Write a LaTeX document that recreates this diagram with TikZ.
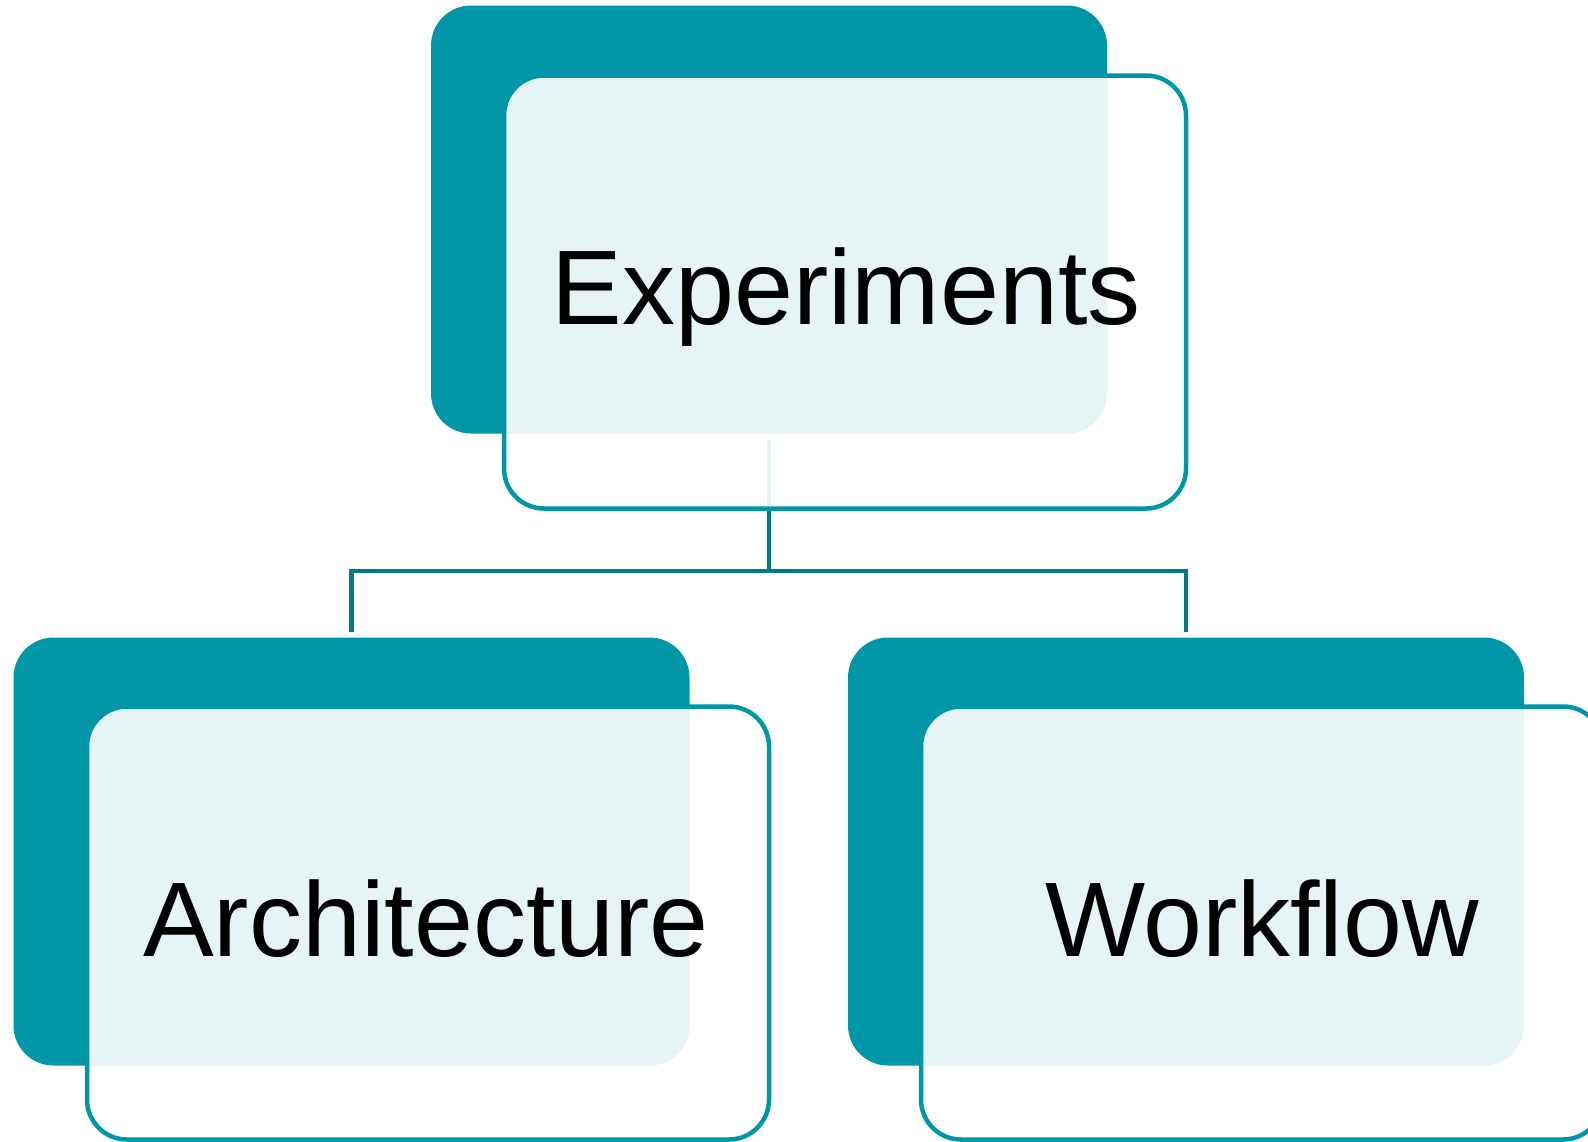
\documentclass[tikz,border=0pt]{standalone}
\usepackage{fontspec}
\setmainfont{Liberation Sans}
\definecolor{tealA}{RGB}{0,150,168}
\definecolor{tealB}{RGB}{0,122,135}
\begin{document}
\begin{tikzpicture}[x=1pt,y=-1pt,
  backbox/.style={draw=none, fill=tealA, rounded corners=40pt, minimum width=676pt, minimum height=428pt, inner sep=0pt},
  frontbox/.style={draw=tealA, line width=4.5pt, fill=white, fill opacity=0.9, rounded corners=40pt, minimum width=682pt, minimum height=433pt, inner sep=0pt},
  boxtext/.style={font=\fontsize{106}{120}\selectfont, anchor=base, inner sep=0pt, text=black},
  conn/.style={draw=tealB, line width=4.5pt}]
\useasboundingbox (0,0) rectangle (1588,1141);
% back boxes
\node[backbox] (tb) at (769,219.5) {};
\node[backbox] (bl) at (351.5,851.5) {};
\node[backbox] (br) at (1186,851.5) {};
% connectors
\coordinate (j) at (769,571);
\draw[conn] ([yshift=-6pt]tb.south) -- (j);
\draw[conn] ([yshift=5pt]bl.north) |- (j) -| ([yshift=5pt]br.north);
% front boxes
\node[frontbox] (tf) at (845,292) {};
\node[frontbox] (blf) at (428,923) {};
\node[frontbox] (brf) at (1262,923) {};
% texts
\node[boxtext] (t1) at (846,324) {Experiments};
\node[boxtext] (t2) at (426,956) {Architecture};
\node[boxtext] (t3) at (1262,956) {Workflow};
\end{tikzpicture}
\end{document}
